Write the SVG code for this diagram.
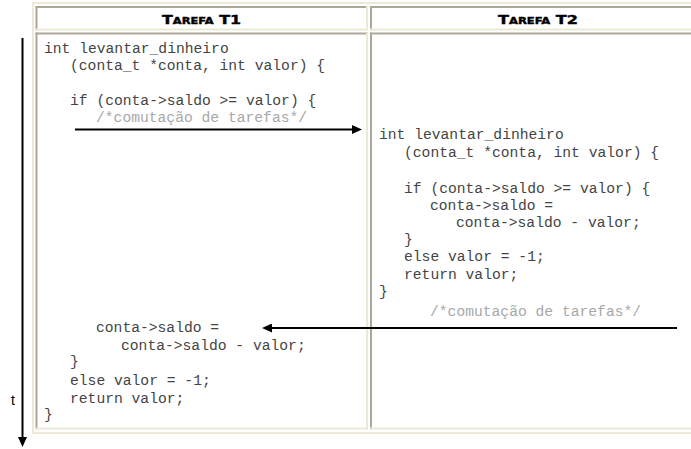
<svg xmlns="http://www.w3.org/2000/svg" width="691" height="449" viewBox="0 0 691 449">
<style>
.code{font-family:"Liberation Mono","Courier New",monospace;font-size:14.67px;fill:#444;white-space:pre}
.cm{fill:#a8a8a8}
.hd{font-family:"DejaVu Sans","Liberation Sans",sans-serif;font-weight:bold;font-variant:small-caps;font-size:12.5px;fill:#000;stroke:#000;stroke-width:0.4}
.dk{fill:#aca899}
.lt{fill:#ece9d8}
.conn{stroke:#000;stroke-width:2;fill:none}
</style>
<defs>
<marker id="ah" viewBox="0 0 10 9" refX="3" refY="4.5" markerWidth="10" markerHeight="9" markerUnits="userSpaceOnUse" orient="auto">
<path d="M0,0 L10,4.5 L0,9 z" fill="#000"/>
</marker>
</defs>
<rect width="691" height="449" fill="#fff"/>
<g id="table">
<rect class="lt" x="32" y="2" width="659" height="2"/>
<rect class="lt" x="32" y="2" width="2" height="432"/>
<rect class="lt" x="32" y="432" width="659" height="2"/>
</g>
<g id="header-t1">
<rect class="dk" x="35.5" y="6" width="332.5" height="2"/>
<rect class="dk" x="35.5" y="6" width="2" height="24.5"/>
<rect class="lt" x="35.5" y="28.5" width="332.5" height="2"/>
<rect class="lt" x="366" y="6" width="2" height="24.5"/>
<text class="hd" x="201.5" y="24" text-anchor="middle" textLength="79" lengthAdjust="spacingAndGlyphs">Tarefa T1</text>
</g>
<g id="header-t2">
<rect class="dk" x="370" y="6" width="321" height="2"/>
<rect class="dk" x="370" y="6" width="2" height="24.5"/>
<rect class="lt" x="370" y="28.5" width="321" height="2"/>
<text class="hd" x="538" y="24" text-anchor="middle" textLength="80" lengthAdjust="spacingAndGlyphs">Tarefa T2</text>
</g>
<g id="body-t1">
<rect class="dk" x="35.5" y="32.5" width="332.5" height="2"/>
<rect class="dk" x="35.5" y="32.5" width="2" height="397"/>
<rect class="lt" x="35.5" y="427.5" width="332.5" height="2"/>
<rect class="lt" x="366" y="32.5" width="2" height="397"/>
<text class="code" x="44" y="52.5">int levantar_dinheiro</text>
<text class="code" x="70" y="70">(conta_t *conta, int valor) {</text>
<text class="code" x="70" y="104.5">if (conta-&gt;saldo &gt;= valor) {</text>
<text class="code cm" x="96" y="121.5">/*comutação de tarefas*/</text>
<text class="code" x="96" y="332">conta-&gt;saldo =</text>
<text class="code" x="121" y="350">conta-&gt;saldo - valor;</text>
<text class="code" x="70" y="366">}</text>
<text class="code" x="70" y="385">else valor = -1;</text>
<text class="code" x="70" y="402.5">return valor;</text>
<text class="code" x="44" y="418.5">}</text>
</g>
<g id="body-t2">
<rect class="dk" x="370" y="32.5" width="321" height="2"/>
<rect class="dk" x="370" y="32.5" width="2" height="397"/>
<rect class="lt" x="370" y="427.5" width="321" height="2"/>
<text class="code" x="379" y="139">int levantar_dinheiro</text>
<text class="code" x="404" y="157">(conta_t *conta, int valor) {</text>
<text class="code" x="404" y="193">if (conta-&gt;saldo &gt;= valor) {</text>
<text class="code" x="430" y="210">conta-&gt;saldo =</text>
<text class="code" x="456" y="227">conta-&gt;saldo - valor;</text>
<text class="code" x="404" y="243.5">}</text>
<text class="code" x="404" y="261">else valor = -1;</text>
<text class="code" x="404" y="279">return valor;</text>
<text class="code" x="379" y="296">}</text>
<text class="code cm" x="430" y="316">/*comutação de tarefas*/</text>
</g>
<g id="time-axis">
<text x="13" y="405" font-family="Liberation Sans, Arial, sans-serif" font-size="14" text-anchor="middle" fill="#000">t</text>
</g>
<g id="connectors">
<line class="conn" x1="22.5" y1="38" x2="22.5" y2="440" marker-end="url(#ah)"/>
<line class="conn" x1="75" y1="129.5" x2="355" y2="129.5" marker-end="url(#ah)"/>
<line class="conn" x1="677" y1="328" x2="269" y2="328" marker-end="url(#ah)"/>
</g>
</svg>
